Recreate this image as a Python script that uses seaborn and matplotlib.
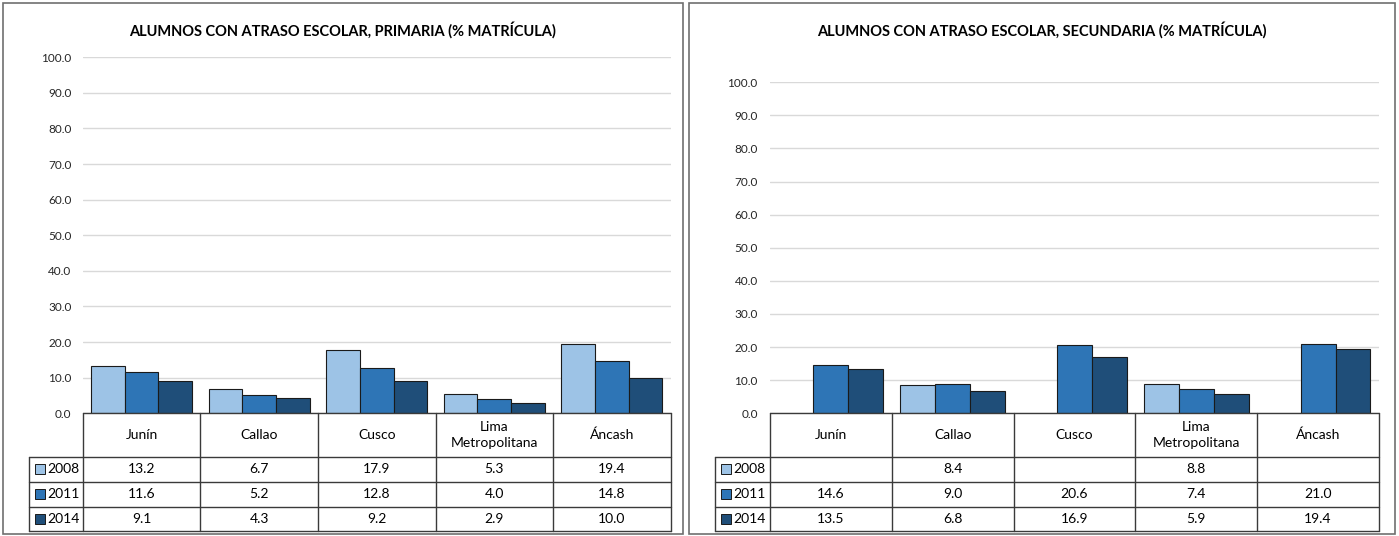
import numpy as np
import pandas as pd
import matplotlib
matplotlib.use("Agg")
import matplotlib.pyplot as plt
import matplotlib.transforms as mtransforms
from matplotlib.patches import Rectangle
from matplotlib.lines import Line2D
import seaborn as sns

# ---------------- data ----------------
categories = ["Junín", "Callao", "Cusco", "Lima\nMetropolitana", "Áncash"]
years = ["2008", "2011", "2014"]

prim_2008 = [13.2, 6.7, 17.9, 5.3, 19.4]
prim_2011 = [11.6, 5.2, 12.8, 4.0, 14.8]
prim_2014 = [9.1, 4.3, 9.2, 2.9, 10.0]

sec_2008 = [np.nan, 8.4, np.nan, 8.8, np.nan]
sec_2011 = [14.6, 9.0, 20.6, 7.4, 21.0]
sec_2014 = [13.5, 6.8, 16.9, 5.9, 19.4]

title_prim = "ALUMNOS CON ATRASO ESCOLAR, PRIMARIA (% MATRÍCULA)"
title_sec = "ALUMNOS CON ATRASO ESCOLAR, SECUNDARIA (% MATRÍCULA)"

y_ticks = [0, 10, 20, 30, 40, 50, 60, 70, 80, 90, 100]
colors = ["#9DC3E6", "#2E75B6", "#1F4E79"]

sns.set_theme(style="white")
plt.rcParams["font.family"] = ["Lato", "DejaVu Sans"]

W, H = 1399, 536
fig = plt.figure(figsize=(W / 100, H / 100), dpi=100)


def fx(px):
    return px / W


def fy(py):
    return 1 - py / H


def long_frame(series):
    rows = []
    for y, vals in zip(years, series):
        for c, v in zip(categories, vals):
            rows.append({"cat": c, "year": y, "value": v})
    return pd.DataFrame(rows)


def panel(box, ax_px, title, title_py, series, legend_px, tick_pad):
    # panel border
    bx0, by0, bx1, by1 = box
    fig.patches.append(Rectangle((fx(bx0), fy(by1)), fx(bx1 - bx0), (by1 - by0) / H,
                                 transform=fig.transFigure, fill=False,
                                 edgecolor="#6f6f6f", linewidth=1.2, zorder=0))
    x0, ytop, x1, ybot = ax_px
    ax = fig.add_axes([fx(x0), fy(ybot), fx(x1 - x0), (ybot - ytop) / H])
    df = long_frame(series)
    sns.barplot(data=df, x="cat", y="value", hue="year", order=categories,
                hue_order=years, palette=colors, saturation=1, width=0.86,
                errorbar=None, edgecolor="#1a1a1a", linewidth=0.8, ax=ax,
                legend=False, zorder=3)
    ax.set_ylim(0, 100)
    ax.set_xlim(-0.5, len(categories) - 0.5)
    ax.set_yticks(y_ticks)
    ax.set_yticklabels([f"{t:.1f}" for t in y_ticks], fontsize=8.5, color="#262626")
    ax.set_xticks([])
    ax.set_xlabel("")
    ax.set_ylabel("")
    ax.tick_params(axis="y", length=0, pad=tick_pad)
    ax.yaxis.grid(True, color="#D9D9D9", linewidth=1)
    ax.set_axisbelow(True)
    for s in ax.spines.values():
        s.set_visible(False)
    ax.patch.set_alpha(0)

    fig.text(fx((bx0 + bx1) / 2), fy(title_py), title, ha="center", va="center",
             fontsize=10.5, fontweight="bold", color="#000000")

    # data table
    tr = mtransforms.blended_transform_factory(ax.transData, fig.transFigure)
    lc = "#3a3a3a"
    row_y = [413.3, 456.7, 482.0, 506.7, 531.0]
    n = len(categories)
    fig.lines.append(Line2D([-0.5, n - 0.5], [fy(row_y[0])] * 2, transform=tr,
                            color=lc, linewidth=1.0))
    for py in row_y[1:]:
        fig.lines.append(Line2D([fx(legend_px), fx(x1)], [fy(py)] * 2,
                                transform=fig.transFigure, color=lc, linewidth=1.0))
    for i in range(n + 1):
        fig.lines.append(Line2D([i - 0.5, i - 0.5], [fy(row_y[0]), fy(row_y[-1])],
                                transform=tr, color=lc, linewidth=1.0))
    fig.lines.append(Line2D([fx(legend_px)] * 2, [fy(row_y[1]), fy(row_y[-1])],
                            transform=fig.transFigure, color=lc, linewidth=1.0))
    for i, c in enumerate(categories):
        fig.text(i, fy((row_y[0] + row_y[1]) / 2), c, transform=tr, ha="center",
                 va="center", fontsize=10, color="#000000", linespacing=1.45)
    for r, (y, vals, col) in enumerate(zip(years, series, colors)):
        cy = fy((row_y[r + 1] + row_y[r + 2]) / 2)
        fig.patches.append(Rectangle((fx(legend_px + 6), cy - 5 / H), fx(10), 10 / H,
                                     transform=fig.transFigure, facecolor=col,
                                     edgecolor="#1a1a1a", linewidth=0.7))
        fig.text(fx(legend_px + 18), cy, y, ha="left", va="center", fontsize=10,
                 color="#000000")
        for i, v in enumerate(vals):
            if not np.isnan(v):
                fig.text(i, cy, f"{v:.1f}", transform=tr, ha="center", va="center",
                         fontsize=10, color="#000000")
    return ax


panel((3, 3, 683, 534), (82.7, 57.3, 670.7, 413.3), title_prim, 30,
      [prim_2008, prim_2011, prim_2014], 29, 8)
panel((689, 3, 1395, 534), (770, 82.3, 1379, 413.3), title_sec, 30,
      [sec_2008, sec_2011, sec_2014], 715, 8.8)

fig.savefig("out.png", dpi=100, facecolor="white")
